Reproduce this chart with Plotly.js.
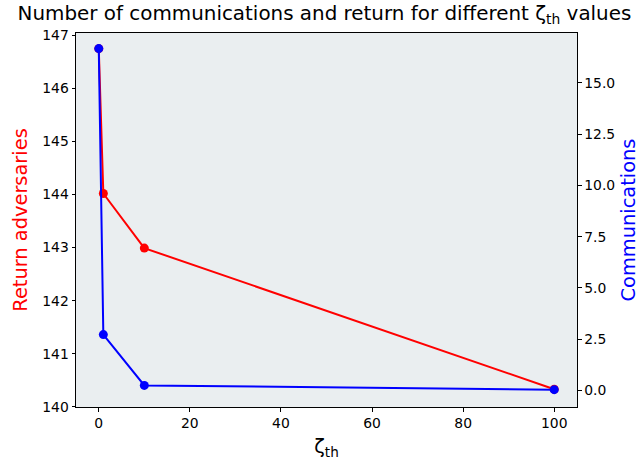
<!DOCTYPE html>
<html>
<head>
<meta charset="utf-8">
<script src="https://cdn.plot.ly/plotly-3.0.1.min.js"></script>
<style>html,body{margin:0;padding:0;background:#fff;}#chart{width:640px;height:461px;}</style>
</head>
<body>
<div id="chart"></div>
<script>
var zetaTh = [0, 1, 10, 100];
var returnAdversaries = [146.75, 144.02, 142.99, 140.33];
var communications = [16.68, 2.72, 0.24, 0.03];
var xTicks = [0, 20, 40, 60, 80, 100];
var leftTicks = [140, 141, 142, 143, 144, 145, 146, 147];
var rightTicks = [0, 2.5, 5, 7.5, 10, 12.5, 15];

var font = 'DejaVu Sans, sans-serif';
var traces = [
  {x: zetaTh, y: returnAdversaries, type: 'scatter', mode: 'lines+markers',
   line: {color: '#ff0000', width: 2}, marker: {color: '#ff0000', size: 9},
   yaxis: 'y', showlegend: false, hoverinfo: 'none'},
  {x: zetaTh, y: communications, type: 'scatter', mode: 'lines+markers',
   line: {color: '#0000ff', width: 2}, marker: {color: '#0000ff', size: 9},
   yaxis: 'y2', showlegend: false, hoverinfo: 'none'}
];
var layout = {
  width: 640, height: 461,
  margin: {l: 75.5, r: 62.7, t: 32.7, b: 54.3, pad: 0},
  paper_bgcolor: '#ffffff', plot_bgcolor: '#eaeef0',
  font: {family: font, color: '#000', size: 13.9},
  title: {text: 'Number of communications and return for different ζ<sub>th</sub> values',
          font: {family: font, size: 19.9, color: '#000'},
          x: 0.507, xanchor: 'center', y: 0.987, yanchor: 'top'},
  xaxis: {range: [-5, 105], tickvals: xTicks, ticktext: xTicks.map(String),
          ticks: 'outside', ticklen: 3.5, tickwidth: 1, tickcolor: '#000',
          showline: true, linecolor: '#000', linewidth: 1, mirror: true,
          showgrid: false, zeroline: false,
          title: {text: 'ζ<sub>th</sub>', font: {family: font, size: 19.4, color: '#000'}, standoff: 9}},
  yaxis: {range: [139.995, 147.045], tickvals: leftTicks, ticktext: leftTicks.map(String),
          ticks: 'outside', ticklen: 3.5, tickwidth: 1, tickcolor: '#000',
          showline: true, linecolor: '#000', linewidth: 1,
          showgrid: false, zeroline: false,
          title: {text: 'Return adversaries', font: {family: font, size: 19.4, color: '#ff0000'}, standoff: 9}},
  yaxis2: {range: [-0.815, 17.44], overlaying: 'y', side: 'right',
           tickvals: rightTicks, ticktext: rightTicks.map(function(v){return v.toFixed(1);}),
           ticks: 'outside', ticklen: 3.5, tickwidth: 1, tickcolor: '#000',
           showline: true, linecolor: '#000', linewidth: 1,
           showgrid: false, zeroline: false,
           title: {text: 'Communications', font: {family: font, size: 19.4, color: '#0000ff'}, standoff: 13}}
};
Plotly.newPlot('chart', traces, layout, {staticPlot: true, displayModeBar: false});
</script>
</body>
</html>
